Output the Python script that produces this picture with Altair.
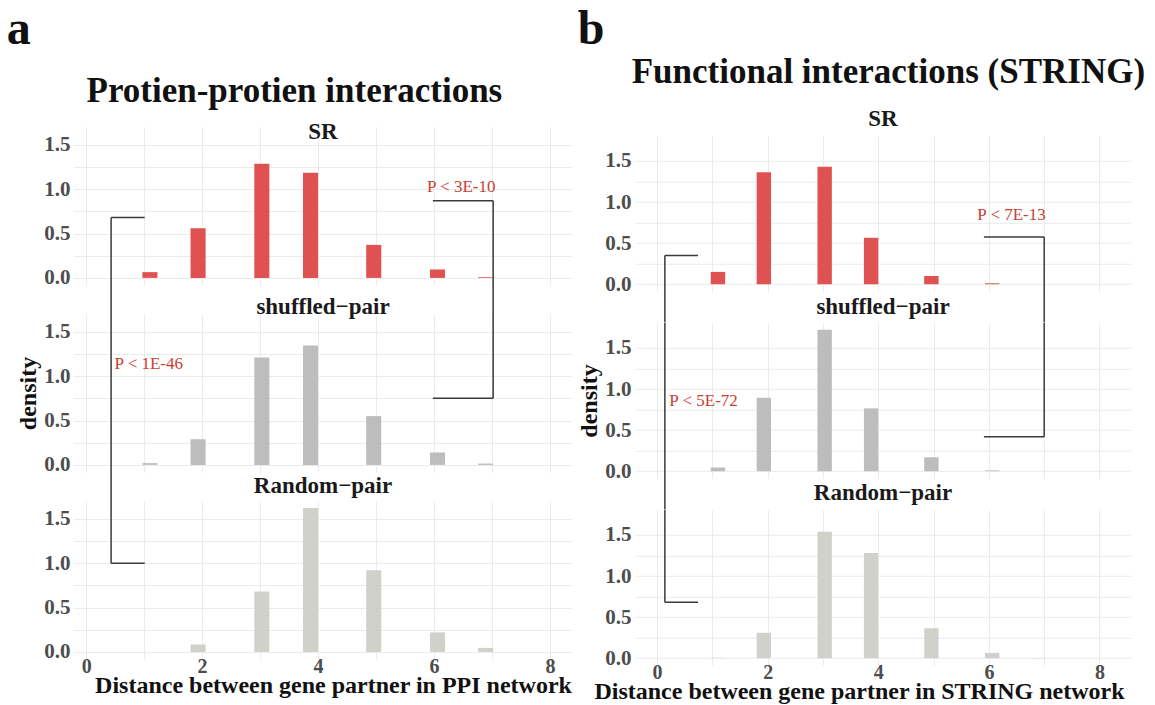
import altair as alt
import pandas as pd

# ---------------- data ----------------
bin_start = [0.97, 1.80, 2.90, 3.74, 4.83, 5.93, 6.76]
bin_width = 0.26
x_ticks = [0, 1, 2, 3, 4, 5, 6, 7, 8]
y_ticks = [0, 0.25, 0.5, 0.75, 1.0, 1.25, 1.5]
facet_labels = ["SR", "shuffled\u2212pair", "Random\u2212pair"]

ppi_sr = [0.065, 0.56, 1.285, 1.185, 0.372, 0.095, 0.008]
ppi_shuffled = [0.02, 0.29, 1.21, 1.345, 0.55, 0.14, 0.015]
ppi_random = [0.0, 0.082, 0.68, 1.62, 0.92, 0.22, 0.045]

string_sr = [0.15, 1.362, 1.43, 0.565, 0.10, 0.012, 0.0]
string_shuffled = [0.045, 0.895, 1.72, 0.765, 0.17, 0.01, 0.0]
string_random = [0.005, 0.31, 1.54, 1.28, 0.365, 0.065, 0.004]

# p-value brackets: segments given as (panel, x, y) -> (panel, x, y)
ppi_brackets = [
    [((0, 0.43, 0.68), (0, 1.01, 0.68)), ((0, 0.43, 0.68), (2, 0.43, 1.0)), ((2, 0.43, 1.0), (2, 1.01, 1.0))],
    [((0, 5.98, 0.87), (0, 7.02, 0.87)), ((0, 7.02, 0.87), (1, 7.02, 0.75)), ((1, 5.98, 0.75), (1, 7.02, 0.75))],
]
ppi_pvals = [("P < 1E-46", 1, 1.08, 1.14), ("P < 3E-10", 0, 6.47, 1.02)]

string_brackets = [
    [((0, 0.14, 0.35), (0, 0.74, 0.35)), ((0, 0.14, 0.35), (2, 0.14, 0.68)), ((2, 0.14, 0.68), (2, 0.74, 0.68))],
    [((0, 5.91, 0.575), (0, 7.0, 0.575)), ((0, 7.0, 0.575), (1, 7.0, 0.42)), ((1, 5.91, 0.42), (1, 7.0, 0.42))],
]
string_pvals = [("P < 5E-72", 1, 0.84, 0.86), ("P < 7E-13", 0, 6.41, 0.84)]

# ---------------- styling ----------------
SERIF = "Liberation Serif"
BAR_COLORS = ["#e05252", "#bdbdbd", "#d1d1cc"]
GRID = "#ebebeb"
LINE = "#3a3a3a"
PRED = "#c9402f"

sides = {
    "ppi": dict(xdom=[-0.21, 8.38], ydom=[-0.08, 1.70], w=498, h=158, sp=29,
                xtitle="Distance between gene partner in PPI network", title_x=259,
                strip_offsets=[-17, -6, 2],
                values=[ppi_sr, ppi_shuffled, ppi_random],
                brackets=ppi_brackets, pvals=ppi_pvals),
    "string": dict(xdom=[-0.40, 8.57], ydom=[-0.086, 1.806], w=496, h=155.5, sp=31,
                   xtitle="Distance between gene partner in STRING network", title_x=224,
                   strip_offsets=[5, 3, 4],
                   values=[string_sr, string_shuffled, string_random],
                   brackets=string_brackets, pvals=string_pvals),
}


def build_panel(side, k):
    cfg = sides[side]
    vals = cfg["values"][k]
    df = pd.DataFrame({
        "start": bin_start,
        "end": [round(b + bin_width, 3) for b in bin_start],
        "density": vals,
        "base": [0.0] * len(vals),
    })
    ylo, yhi = cfg["ydom"]
    xscale = alt.Scale(domain=cfg["xdom"], nice=False, zero=False)
    yscale = alt.Scale(domain=cfg["ydom"], nice=False, zero=False)
    bottom = (k == 2)

    xkw = dict(values=x_ticks, grid=True, domain=False, ticks=False)
    if bottom:
        xkw.update(labels=True, title=cfg["xtitle"], labelFontSize=20,
                   labelExpr="datum.value % 2 == 0 ? datum.label : ''",
                   labelPadding=-3, titlePadding=-3, titleX=cfg["title_x"])
    else:
        xkw.update(labels=False, title=None)
    ykw = dict(values=y_ticks, grid=True, domain=False, ticks=False,
               labelExpr="(datum.value * 2) % 1 == 0 ? format(datum.value, '.1f') : ''",
               labelPadding=4)
    if k == 1:
        ykw.update(title="density", titlePadding=3)
    else:
        ykw.update(title=None)
    xaxis = alt.Axis(**xkw)
    yaxis = alt.Axis(**ykw)

    bars = alt.Chart(df).mark_rect(color=BAR_COLORS[k]).encode(
        x=alt.X("start:Q", scale=xscale, axis=xaxis),
        x2="end",
        y=alt.Y("density:Q", scale=yscale, axis=yaxis),
        y2="base",
    )
    layers = [bars]

    # bracket segments: a segment that crosses panels is cut into pieces; every panel
    # draws its own piece plus the gap below it (through its linear scale)
    span = yhi - ylo
    step = (cfg["h"] + cfg["sp"]) * span / cfg["h"]
    segs = []
    for br in cfg["brackets"]:
        for (p1, x1, y1), (p2, x2, y2) in br:
            if not (p1 <= k <= p2):
                continue
            top = y1 if k == p1 else yhi
            low = y2 if k == p2 else yhi - step
            segs.append({"start": x1 if k == p1 else x2, "density": top, "x2": x2, "y2": low})
    if segs:
        layers.append(
            alt.Chart(pd.DataFrame(segs)).mark_rule(color=LINE, strokeWidth=1.5).encode(
                x=alt.X("start:Q", scale=xscale, axis=xaxis),
                y=alt.Y("density:Q", scale=yscale, axis=yaxis),
                x2="x2", y2="y2",
            )
        )
    texts = [{"label": t, "start": x, "density": y} for (t, p, x, y) in cfg["pvals"] if p == k]
    if texts:
        layers.append(
            alt.Chart(pd.DataFrame(texts)).mark_text(
                font=SERIF, fontSize=17, color=PRED, align="center", baseline="middle"
            ).encode(
                x=alt.X("start:Q", scale=xscale, axis=xaxis),
                y=alt.Y("density:Q", scale=yscale, axis=yaxis),
                text="label:N",
            )
        )
    return alt.layer(*layers).properties(
        width=cfg["w"], height=cfg["h"],
        title=alt.TitleParams(text=facet_labels[k], font=SERIF, fontSize=23, fontWeight="bold",
                              color="#1a1a1a", anchor="middle", offset=cfg["strip_offsets"][k]),
    )


left_inner = alt.vconcat(
    *[build_panel("ppi", k) for k in range(3)], spacing=sides["ppi"]["sp"], bounds="flush",
    title=alt.TitleParams(text="Protien-protien interactions", font=SERIF, fontSize=35,
                          fontWeight="bold", color="#111111", anchor="middle", offset=12),
)
left = alt.vconcat(
    left_inner,
    title=alt.TitleParams(text="a", font=SERIF, fontSize=48, fontWeight="bold",
                          color="#111111", anchor="start", offset=20, dx=-10),
)

spacer = alt.Chart(pd.DataFrame({"v": [0]})).mark_point(opacity=0).encode(
    x=alt.X("v:Q", axis=None), y=alt.Y("v:Q", axis=None)
).properties(width=1, height=1)

right_inner = alt.vconcat(
    *[build_panel("string", k) for k in range(3)], spacing=sides["string"]["sp"], bounds="flush",
    title=alt.TitleParams(text="Functional interactions (STRING)", font=SERIF, fontSize=35,
                          fontWeight="bold", color="#111111", anchor="middle", offset=18, dx=34),
)
right = alt.vconcat(
    spacer, right_inner, spacing=7.8, bounds="flush",
    title=alt.TitleParams(text="b", font=SERIF, fontSize=48, fontWeight="bold",
                          color="#111111", anchor="start", offset=1, dx=0),
)

chart = alt.hconcat(left, right, spacing=5).properties(
    padding={"left": 6, "top": 5, "right": 5, "bottom": 5},
    background="white",
).configure_view(strokeWidth=0).configure_axis(
    labelFont=SERIF, labelFontSize=21, labelColor="#4d4d4d", labelFontWeight="bold",
    titleFont=SERIF, titleFontSize=24, titleFontWeight="bold", titleColor="#111111",
    gridColor=GRID, gridWidth=1,
)

chart.save("out.html", embed_options={"renderer": "svg", "actions": False})
